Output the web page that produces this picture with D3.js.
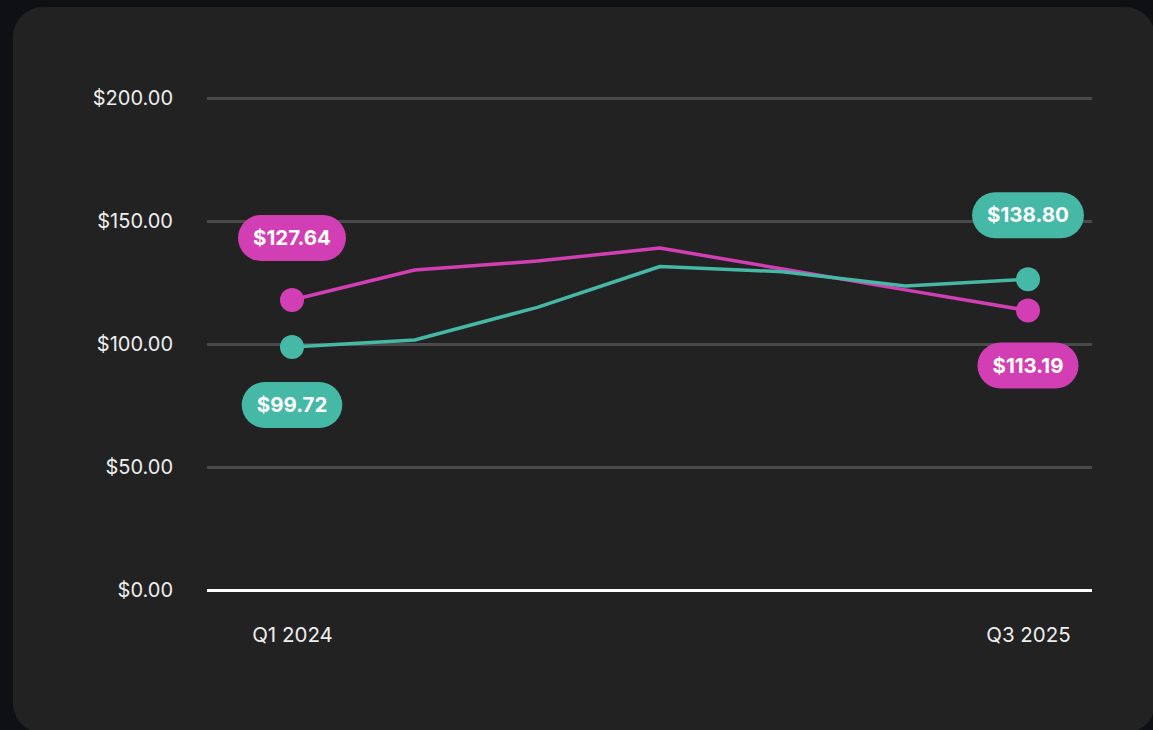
<!DOCTYPE html>
<html>
<head>
	<meta charset="utf-8">
	<script src="https://cdn.jsdelivr.net/npm/d3@7"></script>
	<title>Quarterly price lines</title>
	<style>
		html, body { margin: 0; padding: 0; background: #0f1013; }
		svg { display: block; }
	</style>
</head>
<body>
<script>

	// ---- data ----
	var quarters = ['Q1 2024', 'Q2 2024', 'Q3 2024', 'Q4 2024', 'Q1 2025', 'Q2 2025', 'Q3 2025'];
	var magentaValues = [117.9, 130.1, 133.7, 139.0, 130.5, 122.0, 113.6];
	var tealValues = [98.8, 101.6, 114.9, 131.5, 129.4, 123.6, 126.3];
	var magentaLabels = ['$127.64', '$113.19'];   // first, last
	var tealLabels = ['$99.72', '$138.80'];
	var yTicks = [0, 50, 100, 150, 200];
	var shownQuarters = ['Q1 2024', 'Q3 2025'];

	var width = 1153, height = 730;
	var magenta = '#d23fb5', teal = '#45b8a6';

	var svg = d3.select('body').append('svg')
		.attr('width', width)
		.attr('height', height);

	// card
	svg.append('rect')
		.attr('x', 13).attr('y', 7)
		.attr('width', 1142).attr('height', 726)
		.attr('rx', 30)
		.attr('fill', '#222222');

	var x = d3.scalePoint()
		.domain(quarters)
		.range([292, 1028]);

	var y = d3.scaleLinear()
		.domain([0, 200])
		.range([590, 98]);

	// grid + y labels
	var yAxis = svg.append('g')
		.attr('transform', 'translate(207,0)')
		.call(d3.axisLeft(y)
			.tickValues(yTicks)
			.tickSize(-885)
			.tickPadding(34)
			.tickFormat(function (d) { return '$' + d3.format('.2f')(d); }));

	yAxis.select('.domain').remove();
	yAxis.selectAll('line')
		.attr('stroke', function (d) { return d === 0 ? '#ffffff' : '#4a4a4a'; })
		.attr('stroke-width', 3);
	yAxis.selectAll('text')
		.attr('fill', '#eeeeee')
		.attr('font-family', 'Inter, sans-serif')
		.attr('font-size', 20);

	// x labels
	var xAxis = svg.append('g')
		.attr('transform', 'translate(0,590)')
		.call(d3.axisBottom(x)
			.tickValues(shownQuarters)
			.tickSize(0)
			.tickPadding(37));
	xAxis.select('.domain').remove();
	xAxis.selectAll('text')
		.attr('fill', '#eeeeee')
		.attr('font-family', 'Inter, sans-serif')
		.attr('font-size', 20.5);

	var line = d3.line()
		.x(function (d, i) { return x(quarters[i]); })
		.y(function (d) { return y(d); });

	function drawSeries(values, color, labels, offsets) {
		svg.append('path')
			.datum(values)
			.attr('d', line)
			.attr('fill', 'none')
			.attr('stroke', color)
			.attr('stroke-width', 3.5)
			.attr('stroke-linejoin', 'round');

		var ends = [0, values.length - 1];
		ends.forEach(function (idx, k) {
			var cx = x(quarters[idx]), cy = y(values[idx]);
			svg.append('circle')
				.attr('cx', cx).attr('cy', cy).attr('r', 12)
				.attr('fill', color);

			var g = svg.append('g')
				.attr('transform', 'translate(' + cx + ',' + (cy + offsets[k]) + ')');
			var txt = g.append('text')
				.text(labels[k])
				.attr('text-anchor', 'middle')
				.attr('dy', '0.35em')
				.attr('fill', '#ffffff')
				.attr('font-family', 'Inter, sans-serif')
				.attr('font-weight', 700)
				.attr('font-size', 20.5);
			var w = txt.node().getComputedTextLength() + 30;
			g.insert('rect', 'text')
				.attr('x', -w / 2).attr('y', -23)
				.attr('width', w).attr('height', 46)
				.attr('rx', 23)
				.attr('fill', color);
		});
	}

	drawSeries(magentaValues, magenta, magentaLabels, [-62, 55]);
	drawSeries(tealValues, teal, tealLabels, [58, -64]);

</script>
</body>
</html>
